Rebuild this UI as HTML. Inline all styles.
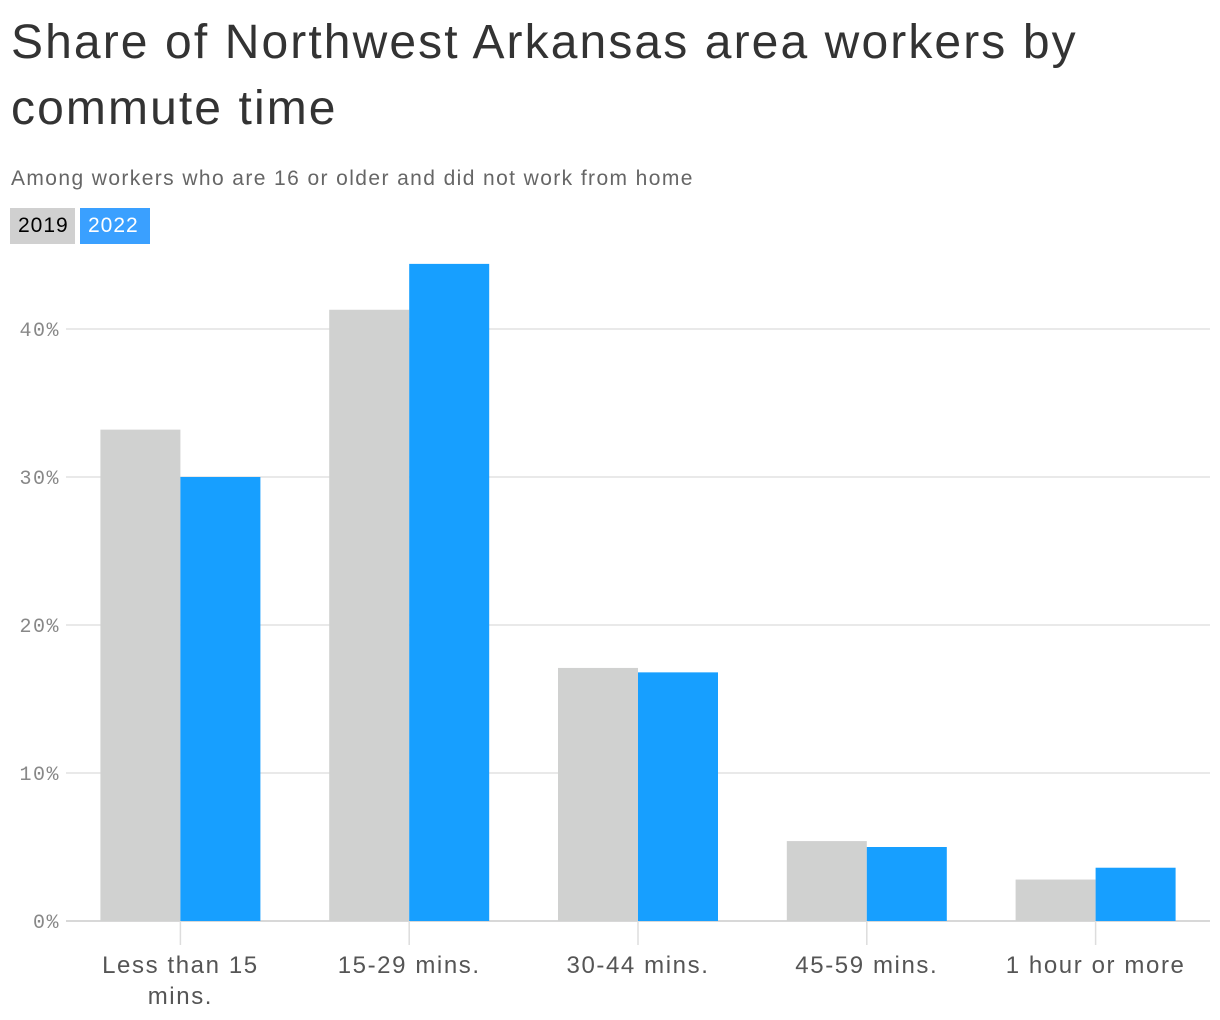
<!DOCTYPE html>
<html><head><meta charset="utf-8"><style>
body{margin:0;width:1220px;height:1020px;background:#fff;font-family:"Liberation Sans",sans-serif;overflow:hidden}
h1{position:absolute;left:11px;top:10px;margin:0;font-size:48px;font-weight:400;line-height:66px;color:#333;width:1200px;letter-spacing:2.1px}
.sub{position:absolute;left:11px;top:167px;font-size:21px;color:#666;letter-spacing:1.4px}
.leg{position:absolute;top:208px;height:36px;line-height:36px;font-size:21px;padding:0 8px;letter-spacing:1px}
</style></head><body>
<h1>Share of Northwest Arkansas area workers by commute time</h1>
<div class="sub">Among workers who are 16 or older and did not work from home</div>
<div class="leg" style="left:10px;width:49px;background:#d0d0d0;color:#000">2019</div>
<div class="leg" style="left:80px;width:54px;background:#3aa0ff;color:#fff">2022</div>
<svg id="c" width="1220" height="1020" style="position:absolute;left:0;top:0"></svg>
<script>
const categories=["Less than 15|mins.","15-29 mins.","30-44 mins.","45-59 mins.","1 hour or more"];
const values2019=[33.2,41.3,17.1,5.4,2.8];
const values2022=[30.0,44.4,16.8,5.0,3.6];
const ticks=[0,10,20,30,40];
const tickLabels=["0%","10%","20%","30%","40%"];
const svg=document.getElementById('c');const NS="http://www.w3.org/2000/svg";
const x0=66,x1=1210,y0=921,ppu=14.8;
const band=(x1-x0)/categories.length;
const y=v=>y0-v*ppu;
function mk(t,a){const e=document.createElementNS(NS,t);for(const k in a)e.setAttribute(k,a[k]);svg.appendChild(e);return e;}
ticks.forEach((t,i)=>{
 const l=mk('line',{x1:x0,x2:x1,y1:y(t),y2:y(t),stroke:t===0?'#ccc':'#e2e2e2','stroke-width':1.5});
 
 
 const tx=mk('text',{x:60,y:y(t)+7,'text-anchor':'end','font-family':'Liberation Mono,monospace','font-size':20,fill:'#888','letter-spacing':1.5});
 tx.textContent=tickLabels[i];
 
 
});
categories.forEach((c,i)=>{
 const cx=x0+band*(i+0.5);
 mk('line',{x1:cx,x2:cx,y1:y0,y2:y0+24,stroke:'#ddd','stroke-width':1.5});
 const a=mk('rect',{x:cx-80,y:y(values2019[i]),width:80,height:values2019[i]*ppu,fill:'#d0d1d0'});
 
 
 const b=mk('rect',{x:cx,y:y(values2022[i]),width:80,height:values2022[i]*ppu,fill:'#179fff'});
 
 
 c.split('|').forEach((s,j)=>{
  const t=mk('text',{x:cx,y:973+j*31,'text-anchor':'middle','font-size':24,fill:'#555','letter-spacing':1.6});
  t.textContent=s;
  
  
 });
});
</script>
</body></html>
